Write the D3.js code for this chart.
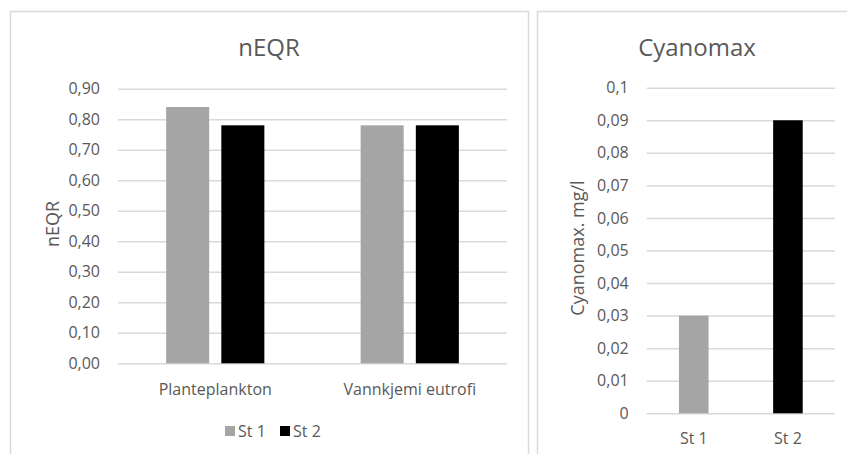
<!DOCTYPE html>
<html>
<head>
<meta charset="utf-8">
<script src="https://cdn.jsdelivr.net/npm/d3@7"></script>
<style>
  html, body { margin: 0; padding: 0; background: #fff; }
  svg text { font-family: "Open Sans", "Noto Sans", sans-serif; fill: #595959; }
</style>
</head>
<body>
<svg id="chart" width="847" height="454"></svg>
<script>
// nEQR panel
const eqrCategories = ["Planteplankton", "Vannkjemi eutrofi"];
const eqrSeries = ["St 1", "St 2"];
const eqrSt1 = [0.84, 0.78];
const eqrSt2 = [0.78, 0.78];
const eqrTicks = [0, 0.1, 0.2, 0.3, 0.4, 0.5, 0.6, 0.7, 0.8, 0.9];

// Cyanomax panel
const cyanoCategories = ["St 1", "St 2"];
const cyanoValues = [0.03, 0.09];
const cyanoTicks = [0, 0.01, 0.02, 0.03, 0.04, 0.05, 0.06, 0.07, 0.08, 0.09, 0.1];

const seriesColors = ["#a5a5a5", "#000000"];
const gridColor = "#d9d9d9";

const nb = d3.formatLocale({ decimal: ",", thousands: " ", grouping: [3], currency: ["", " kr"] });
const fmt2 = nb.format(".2f");
const fmtShort = nb.format(".2~f");

const svg = d3.select("#chart");

// panel frames
svg.append("rect").attr("x", 10.5).attr("y", 11.5).attr("width", 518).attr("height", 460)
  .attr("fill", "#fff").attr("stroke", gridColor).attr("stroke-width", 1.5);
svg.append("rect").attr("x", 537.5).attr("y", 11.5).attr("width", 330).attr("height", 460)
  .attr("fill", "#fff").attr("stroke", gridColor).attr("stroke-width", 1.5);

// ---------- nEQR ----------
{
  const g = svg.append("g");
  const x0 = d3.scaleBand().domain(eqrCategories).range([118, 507]);
  const groupW = x0.bandwidth() * 0.505;
  const x1 = d3.scaleBand().domain(eqrSeries).range([0, groupW]).paddingInner(0.22);
  const y = d3.scaleLinear().domain([0, 0.9]).range([363.3, 88.7]);

  const yAxis = d3.axisLeft(y).tickValues(eqrTicks).tickFormat(fmt2)
    .tickSize(-(507 - 118)).tickPadding(18);
  const ga = g.append("g").attr("transform", "translate(118,0)").call(yAxis);
  ga.select(".domain").remove();
  ga.selectAll(".tick line").attr("stroke", gridColor).attr("stroke-width", 1.5);
  ga.selectAll(".tick text").attr("font-size", 16).attr("fill", "#595959");

  const rows = eqrCategories.map((c, i) => ({ c, vals: [eqrSt1[i], eqrSt2[i]] }));
  const grp = g.selectAll(".grp").data(rows).join("g")
    .attr("transform", d => `translate(${x0(d.c) + (x0.bandwidth() - groupW) / 2},0)`);
  grp.selectAll("rect").data(d => d.vals.map((v, j) => ({ s: eqrSeries[j], v, j })))
    .join("rect")
    .attr("x", d => x1(d.s)).attr("width", x1.bandwidth())
    .attr("y", d => y(d.v)).attr("height", d => y(0) - y(d.v))
    .attr("fill", d => seriesColors[d.j]);

  const xAxis = d3.axisBottom(x0).tickSize(0).tickPadding(20);
  const gx = g.append("g").attr("transform", `translate(0,${y(0)})`).call(xAxis);
  gx.select(".domain").remove();
  gx.selectAll(".tick text").attr("font-size", 16).attr("fill", "#595959");

  g.append("text").attr("x", 269).attr("y", 56).attr("text-anchor", "middle")
    .attr("font-size", 24).text("nEQR");
  g.append("text").attr("transform", "translate(59,224) rotate(-90)")
    .attr("text-anchor", "middle").attr("font-size", 18).text("nEQR");

  // legend
  const legX = [225, 280];
  const leg = g.selectAll(".leg").data(eqrSeries).join("g")
    .attr("transform", (d, i) => `translate(${legX[i]},426)`);
  leg.append("rect").attr("width", 10).attr("height", 10).attr("fill", (d, i) => seriesColors[i]);
  leg.append("text").attr("x", 13).attr("y", 11).attr("font-size", 16).text(d => d);
}

// ---------- Cyanomax ----------
{
  const g = svg.append("g");
  const x = d3.scaleBand().domain(cyanoCategories).range([646.7, 835]);
  const barW = x.bandwidth() * 0.314;
  const y = d3.scaleLinear().domain([0, 0.1]).range([413.3, 87.7]);

  const yAxis = d3.axisLeft(y).tickValues(cyanoTicks).tickFormat(fmtShort)
    .tickSize(-(835 - 646.7)).tickPadding(18);
  const ga = g.append("g").attr("transform", "translate(646.7,0)").call(yAxis);
  ga.select(".domain").remove();
  ga.selectAll(".tick line").attr("stroke", gridColor).attr("stroke-width", 1.5);
  ga.selectAll(".tick text").attr("font-size", 16).attr("fill", "#595959");

  g.selectAll(".bar").data(cyanoCategories.map((c, i) => ({ c, v: cyanoValues[i], i })))
    .join("rect")
    .attr("x", d => x(d.c) + (x.bandwidth() - barW) / 2).attr("width", barW)
    .attr("y", d => y(d.v)).attr("height", d => y(0) - y(d.v))
    .attr("fill", d => seriesColors[d.i]);

  const xAxis = d3.axisBottom(x).tickSize(0).tickPadding(19);
  const gx = g.append("g").attr("transform", `translate(0,${y(0)})`).call(xAxis);
  gx.select(".domain").remove();
  gx.selectAll(".tick text").attr("font-size", 16).attr("fill", "#595959");

  g.append("text").attr("x", 697).attr("y", 56).attr("text-anchor", "middle")
    .attr("font-size", 24).text("Cyanomax");
  g.append("text").attr("transform", "translate(584,248) rotate(-90)")
    .attr("text-anchor", "middle").attr("font-size", 18).text("Cyanomax. mg/l");
}
</script>
</body>
</html>
